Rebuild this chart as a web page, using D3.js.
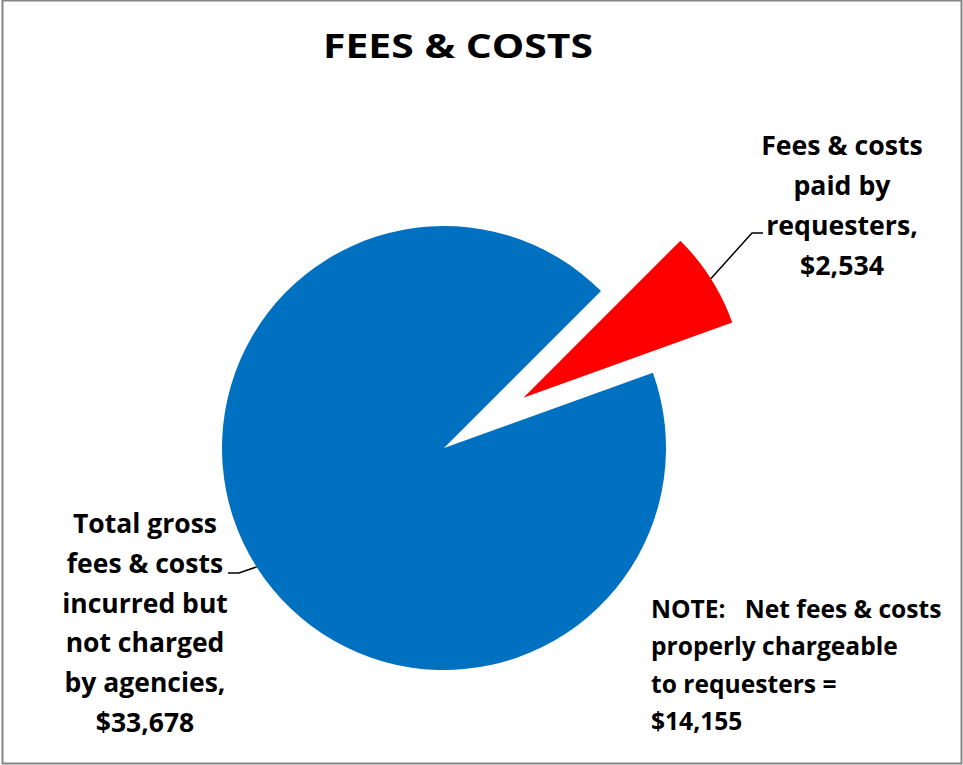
<!DOCTYPE html>
<html>
<head>
<meta charset="utf-8">
<script src="https://cdn.jsdelivr.net/npm/d3@7"></script>
<style>
  body { margin: 0; background: #fff; }
  text { font-family: "Open Sans", Lato, sans-serif; font-weight: bold; fill: #000; }
</style>
</head>
<body>
<svg id="chart" width="963" height="765"></svg>
<script>
/** Slice data */
var sliceNames = ['Total gross fees & costs incurred but not charged by agencies', 'Fees & costs paid by requesters'];
var sliceValues = [33678, 2534];
var sliceColors = ['#0070C0', '#FF0000'];

/** Label lines for each slice and the note */
var blueLabelLines = ['Total gross', 'fees & costs', 'incurred but', 'not charged', 'by agencies,', '$33,678'];
var redLabelLines = ['Fees & costs', 'paid by', 'requesters,', '$2,534'];
var noteLines = ['NOTE:\u00a0\u00a0\u00a0Net fees & costs', 'properly chargeable', 'to requesters =', '$14,155'];

var width = 963,
    height = 765;

var cx = 444,
    cy = 448,
    radius = 222,
    explode = 94;

var svg = d3.select('#chart');

// chart frame
svg.append('rect')
    .attr('x', 2.5).attr('y', 0.5)
    .attr('width', 959).attr('height', 763)
    .attr('fill', '#fff')
    .attr('stroke', '#868686')
    .attr('stroke-width', 2);

// title
svg.append('text')
    .attr('x', 458).attr('y', 58)
    .attr('text-anchor', 'middle')
    .attr('textLength', 270)
    .attr('lengthAdjust', 'spacingAndGlyphs')
    .style('font-size', '34px')
    .text('FEES & COSTS');

var startDeg = 70.2;
var pie = d3.pie()
    .sort(null)
    .startAngle(startDeg * Math.PI / 180)
    .endAngle(startDeg * Math.PI / 180 + 2 * Math.PI);

var arcs = pie(sliceValues);

var arc = d3.arc()
    .innerRadius(0)
    .outerRadius(radius);

function offsetFor(d, i) {
    // only the small slice is pulled out
    var dist = i == 1 ? explode : 0;
    var mid = (d.startAngle + d.endAngle) / 2;
    return [Math.sin(mid) * dist, -Math.cos(mid) * dist];
}

var g = svg.append('g')
    .attr('transform', 'translate(' + cx + ',' + cy + ')');

g.selectAll('path.slice')
    .data(arcs)
    .enter()
    .append('path')
    .attr('class', 'slice')
    .attr('d', arc)
    .attr('fill', function (d, i) { return sliceColors[i]; })
    .attr('transform', function (d, i) {
        var o = offsetFor(d, i);
        return 'translate(' + o[0] + ',' + o[1] + ')';
    });

// point on the slice edge where the leader line starts
function edgePoint(d, i) {
    var o = offsetFor(d, i);
    var mid = (d.startAngle + d.endAngle) / 2;
    return [cx + o[0] + Math.sin(mid) * radius, cy + o[1] - Math.cos(mid) * radius];
}

var line = d3.line();

// leader for blue slice
var pb = edgePoint(arcs[0], 0);
svg.append('path')
    .attr('d', line([pb, [239, 573], [228, 573]]))
    .attr('fill', 'none')
    .attr('stroke', '#000')
    .attr('stroke-width', 1.5);

// leader for red slice
var pr = edgePoint(arcs[1], 1);
svg.append('path')
    .attr('d', line([pr, [752, 233], [763, 233]]))
    .attr('fill', 'none')
    .attr('stroke', '#000')
    .attr('stroke-width', 1.5);

function addBlock(lines, x, y0, step, anchor, size) {
    svg.append('g').selectAll('text')
        .data(lines)
        .enter()
        .append('text')
        .attr('x', x)
        .attr('y', function (d, i) { return y0 + i * step; })
        .attr('text-anchor', anchor)
        .style('font-size', size + 'px')
        .text(function (d) { return d; });
}

addBlock(redLabelLines, 842, 155, 40, 'middle', 26.7);
addBlock(blueLabelLines, 145, 533, 39.8, 'middle', 26.5);
addBlock(noteLines, 651, 618, 37.3, 'start', 24.6);
</script>
</body>
</html>
